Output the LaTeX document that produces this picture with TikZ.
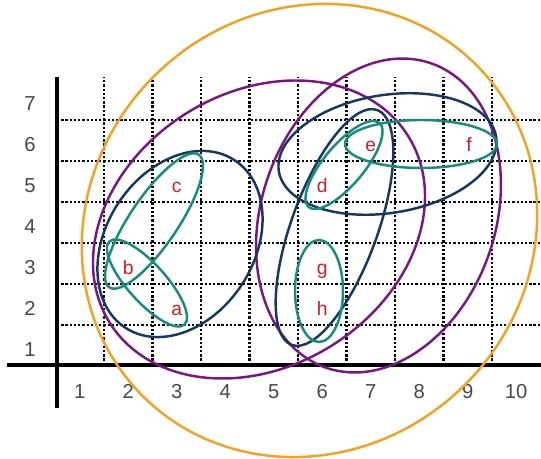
\documentclass[tikz,border=0pt]{standalone}
\usepackage{fontspec}
\setmainfont{Liberation Sans}
\definecolor{pairteal}{RGB}{22,140,124}
\definecolor{tripleblue}{RGB}{22,56,96}
\definecolor{halfpurple}{RGB}{122,22,132}
\definecolor{wholeorange}{RGB}{246,160,32}
\definecolor{elemred}{RGB}{200,32,42}

\begin{document}
\begin{tikzpicture}[x=0.02cm, y=0.02cm,
    gridline/.style = {line width=1.4pt, dash pattern=on 1.3pt off 1.1pt},
    axisline/.style = {line width=2pt},
    num/.style = {anchor=base, inner sep=0pt, text=black!72, font=\fontsize{11.5}{12}\selectfont},
    elem/.style = {anchor=base, inner sep=0pt, text=elemred, font=\fontsize{11}{12}\selectfont},
    pair/.style = {draw=pairteal, line width=1.4pt},
    triple/.style = {draw=tripleblue, line width=1.4pt},
    half/.style = {draw=halfpurple, line width=1.4pt},
    whole/.style = {draw=wholeorange, line width=1.4pt}]
    \useasboundingbox (0,0) rectangle (541,459);

    \foreach \i in {1,...,9}
        \draw[gridline] ({31.2+48.5*(\i+0.5)},94) -- ({31.2+48.5*(\i+0.5)},382);
    \foreach \j in {0,...,5}
        \draw[gridline] (57,{134+41*\j}) -- (541,{134+41*\j});

    \draw[axisline] (7,94) -- (541,94);
    \draw[axisline] (57,51) -- (57,382);

    \foreach \i in {1,...,10}
        \node[num] (x\i) at ({31.2+48.5*\i},60.5) {\i};
    \foreach \j in {1,...,7}
        \node[num] (y\j) at (30,{61.5+41*\j}) {\j};

    \draw[whole, rotate around={43:(309.5,228.5)}] (309.5,228.5) ellipse [x radius=235, y radius=219];

    \draw[half, rotate around={32:(259,229.5)}] (259,229.5) ellipse [x radius=176, y radius=137];
    \draw[half, rotate around={71:(378.5,243.5)}] (378.5,243.5) ellipse [x radius=161, y radius=117];

    \draw[triple, rotate around={57:(180,215)}] (180,215) ellipse [x radius=100, y radius=74];
    \draw[triple, rotate around={9:(387.5,305)}] (387.5,305) ellipse [x radius=110, y radius=59];
    \draw[triple, rotate around={70:(334.5,231.5)}] (334.5,231.5) ellipse [x radius=125, y radius=43];

    \draw[pair, rotate around={56:(154,238)}] (154,238) ellipse [x radius=80, y radius=24];
    \draw[pair, rotate around={-48:(147,176)}] (147,176) ellipse [x radius=56, y radius=19];
    \draw[pair] (319,168) ellipse [x radius=24, y radius=51];
    \draw[pair, rotate around={50:(344,294)}] (344,294) ellipse [x radius=55, y radius=20];
    \draw[pair] (421,315) ellipse [x radius=76, y radius=24];

    \node[elem] (a) at (176.7,143.5) {a};
    \node[elem] (b) at (128.2,184.5) {b};
    \node[elem] (c) at (176.7,266.5) {c};
    \node[elem] (d) at (322.2,266.5) {d};
    \node[elem] (e) at (370.7,307.5) {e};
    \node[elem] (f) at (469,307.5) {f};
    \node[elem] (g) at (322.2,184.5) {g};
    \node[elem] (h) at (322.2,143.5) {h};
\end{tikzpicture}
\end{document}
